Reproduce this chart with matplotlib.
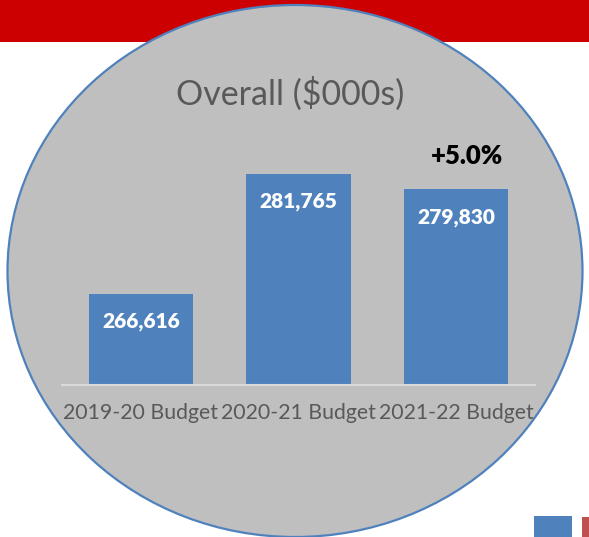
import matplotlib.pyplot as plt
from matplotlib.patches import Ellipse, Rectangle

categories = ['2019-20 Budget', '2020-21 Budget', '2021-22 Budget']
values = [266616, 281765, 279830]
value_labels = ['266,616', '281,765', '279,830']
change_label = '+5.0%'

plt.rcParams['font.family'] = ['Lato', 'DejaVu Sans']

fig = plt.figure(figsize=(5.89, 5.37), dpi=100)
fig.patch.set_facecolor('white')

# red header band and the grey oval behind the chart
fig.patches.append(Rectangle((0, 1 - 42 / 537), 1, 42 / 537, transform=fig.transFigure,
                             facecolor='#CC0000', edgecolor='none', zorder=-3))
fig.patches.append(Ellipse((295 / 589, 1 - 271 / 537), 575 / 589, 532 / 537,
                           transform=fig.transFigure, facecolor='#BFBFBF',
                           edgecolor='#4F81BD', linewidth=1.6, zorder=-2))
# small legend-like blocks in the corner
fig.patches.append(Rectangle((534 / 589, 0), 38 / 589, 21 / 537, transform=fig.transFigure,
                             facecolor='#4F81BD', edgecolor='none', zorder=-2))
fig.patches.append(Rectangle((582 / 589, 0), 7 / 589, 20 / 537, transform=fig.transFigure,
                             facecolor='#C0504D', edgecolor='none', zorder=-2))

ax = fig.add_axes([62 / 589, 152 / 537, 473 / 589, 277 / 537])
ax.set_facecolor('none')
x = range(len(values))
ax.bar(x, values, width=0.66, color='#4F81BD', zorder=2)
ax.set_xlim(-0.5, 2.5)
ax.set_ylim(255100, 290100)

for i, (v, lab) in enumerate(zip(values, value_labels)):
    ax.annotate(lab, (i, v), xytext=(0, -20), textcoords='offset points',
                ha='center', va='center', color='white', fontsize=15, fontweight='heavy')

ax.annotate(change_label, (2, values[1]), xytext=(8, 13), textcoords='offset points',
            ha='center', va='center', color='black', fontsize=18.5, fontweight='heavy')

for s in ['top', 'right', 'left']:
    ax.spines[s].set_visible(False)
ax.spines['bottom'].set_color('#D9D9D9')
ax.spines['bottom'].set_linewidth(1.5)
ax.set_yticks([])
ax.set_xticks(list(x))
ax.set_xticklabels(categories, fontsize=15.3, color='#595959')
ax.tick_params(axis='x', length=0, pad=13)

fig.text(290 / 589, 1 - 94 / 537, 'Overall ($000s)', ha='center', va='center',
         fontsize=24.5, color='#595959')

fig.savefig('out.png', dpi=100)
